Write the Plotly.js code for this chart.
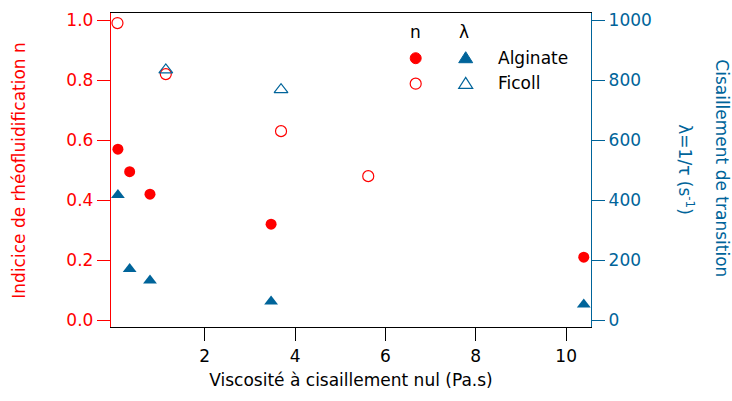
<!DOCTYPE html>
<html>
<head>
<meta charset="utf-8">
<script src="https://cdn.plot.ly/plotly-3.0.1.min.js"></script>
<style>html,body{margin:0;padding:0;background:#fff}#chart{width:732px;height:401px}</style>
</head>
<body>
<div id="chart"></div>
<script>
// Data
const alginateViscosity = [0.08, 0.34, 0.79, 3.47, 10.39];
const alginateN = [0.57, 0.495, 0.42, 0.32, 0.21];
const alginateLambda = [417, 171, 132, 62, 52];

const ficollViscosity = [0.07, 1.14, 3.69, 5.62];
const ficollN = [0.99, 0.82, 0.63, 0.48];
const ficollLambda = [null, 834, 768, null];

const xTicks = [2, 4, 6, 8, 10];
const nTicks = [0.0, 0.2, 0.4, 0.6, 0.8, 1.0];
const lambdaTicks = [0, 200, 400, 600, 800, 1000];

const RED = '#ff0000';
const BLUE = '#00649a';
const FONT = 'DejaVu Sans, sans-serif';

const traces = [
  {x: alginateViscosity, y: alginateN, type: 'scatter', mode: 'markers', name: 'n Alginate',
   marker: {symbol: 'circle', size: 11, color: RED}, yaxis: 'y', cliponaxis: false},
  {x: ficollViscosity, y: ficollN, type: 'scatter', mode: 'markers', name: 'n Ficoll',
   marker: {symbol: 'circle-open', size: 11, color: RED, line: {width: 1.2, color: RED}}, yaxis: 'y', cliponaxis: false},
  {x: alginateViscosity, y: alginateLambda, type: 'scatter', mode: 'markers', name: 'λ Alginate',
   marker: {symbol: 'triangle-up', size: 12, color: BLUE}, yaxis: 'y2', cliponaxis: false},
  {x: ficollViscosity, y: ficollLambda, type: 'scatter', mode: 'markers', name: 'λ Ficoll',
   marker: {symbol: 'triangle-up-open', size: 12, color: BLUE, line: {width: 1.2, color: BLUE}}, yaxis: 'y2', cliponaxis: false}
];

// legend helpers (paper coords)
const L = 111.3, R = 591.3, T = 12.7, B = 327.3;
const px = v => (v - L) / (R - L);
const py = v => (B - v) / (B - T);

const shapes = [
  {type: 'circle', xref: 'paper', yref: 'paper', xsizemode: 'pixel', ysizemode: 'pixel',
   xanchor: px(416), yanchor: py(58), x0: -5.5, x1: 5.5, y0: -5.5, y1: 5.5,
   fillcolor: RED, line: {color: RED, width: 1}},
  {type: 'circle', xref: 'paper', yref: 'paper', xsizemode: 'pixel', ysizemode: 'pixel',
   xanchor: px(416), yanchor: py(83.5), x0: -5.5, x1: 5.5, y0: -5.5, y1: 5.5,
   fillcolor: 'rgba(0,0,0,0)', line: {color: RED, width: 1.2}},
  {type: 'path', xref: 'paper', yref: 'paper', xsizemode: 'pixel', ysizemode: 'pixel',
   xanchor: px(466), yanchor: py(57.5), path: 'M-7,-5 L7,-5 L0,6 Z',
   fillcolor: BLUE, line: {color: BLUE, width: 1}},
  {type: 'path', xref: 'paper', yref: 'paper', xsizemode: 'pixel', ysizemode: 'pixel',
   xanchor: px(466), yanchor: py(83.3), path: 'M-7,-5 L7,-5 L0,6 Z',
   fillcolor: 'rgba(0,0,0,0)', line: {color: BLUE, width: 1.2}}
];

const annotations = [
  {text: 'n', xref: 'paper', yref: 'paper', x: px(416), y: py(32), xanchor: 'center', yanchor: 'middle',
   showarrow: false, font: {family: FONT, size: 17, color: '#000'}},
  {text: 'λ', xref: 'paper', yref: 'paper', x: px(464), y: py(32), xanchor: 'center', yanchor: 'middle',
   showarrow: false, font: {family: FONT, size: 17, color: '#000'}},
  {text: 'Alginate', xref: 'paper', yref: 'paper', x: px(496), y: py(57.5), xanchor: 'left', yanchor: 'middle',
   showarrow: false, font: {family: FONT, size: 17, color: '#000'}},
  {text: 'Ficoll', xref: 'paper', yref: 'paper', x: px(496), y: py(83.3), xanchor: 'left', yanchor: 'middle',
   showarrow: false, font: {family: FONT, size: 17, color: '#000'}},
  {text: 'Cisaillement de transition', xref: 'paper', yref: 'paper', x: px(722), y: py(168),
   xanchor: 'center', yanchor: 'middle', textangle: 90, showarrow: false,
   font: {family: FONT, size: 17, color: BLUE}},
  {text: 'λ=1/τ (s<sup>-1</sup>)', xref: 'paper', yref: 'paper', x: px(686), y: py(169),
   xanchor: 'center', yanchor: 'middle', textangle: 90, showarrow: false,
   font: {family: FONT, size: 17, color: BLUE}},
  {text: 'Indicice de rhéofluidification n', xref: 'paper', yref: 'paper', x: px(19), y: py(170),
   xanchor: 'center', yanchor: 'middle', textangle: -90, showarrow: false,
   font: {family: FONT, size: 17, color: RED}}
];

const layout = {
  width: 732, height: 401,
  margin: {l: L, r: 732 - R, t: T, b: 401 - B, pad: 0},
  paper_bgcolor: '#fff', plot_bgcolor: '#fff',
  showlegend: false,
  font: {family: FONT, size: 17, color: '#000'},
  xaxis: {
    range: [-0.073, 10.55], tickvals: xTicks, ticktext: xTicks.map(String),
    showgrid: false, zeroline: false, showline: true, linecolor: '#000', linewidth: 1.2,
    mirror: true, ticks: 'outside', ticklen: 13, tickcolor: '#000', tickwidth: 1,
    tickfont: {family: FONT, size: 17, color: '#000'},
    title: {text: 'Viscosité à cisaillement nul (Pa.s)', font: {family: FONT, size: 17, color: '#000'}, standoff: 9}
  },
  yaxis: {
    range: [-0.0226, 1.0236], tickvals: nTicks, ticktext: nTicks.map(v => v.toFixed(1)),
    showgrid: false, zeroline: false, showline: true, linecolor: RED, linewidth: 1.2,
    ticks: 'outside', ticklen: 13, tickcolor: RED, tickwidth: 1,
    tickfont: {family: FONT, size: 17, color: RED}
  },
  yaxis2: {
    overlaying: 'y', side: 'right',
    range: [-22.6, 1023.6], tickvals: lambdaTicks, ticktext: lambdaTicks.map(String),
    showgrid: false, zeroline: false, showline: true, linecolor: BLUE, linewidth: 1.2,
    ticks: 'outside', ticklen: 13, tickcolor: BLUE, tickwidth: 1,
    tickfont: {family: FONT, size: 17, color: BLUE}
  },
  shapes: shapes,
  annotations: annotations
};

Plotly.newPlot('chart', traces, layout, {displayModeBar: false, staticPlot: true});
</script>
</body>
</html>
